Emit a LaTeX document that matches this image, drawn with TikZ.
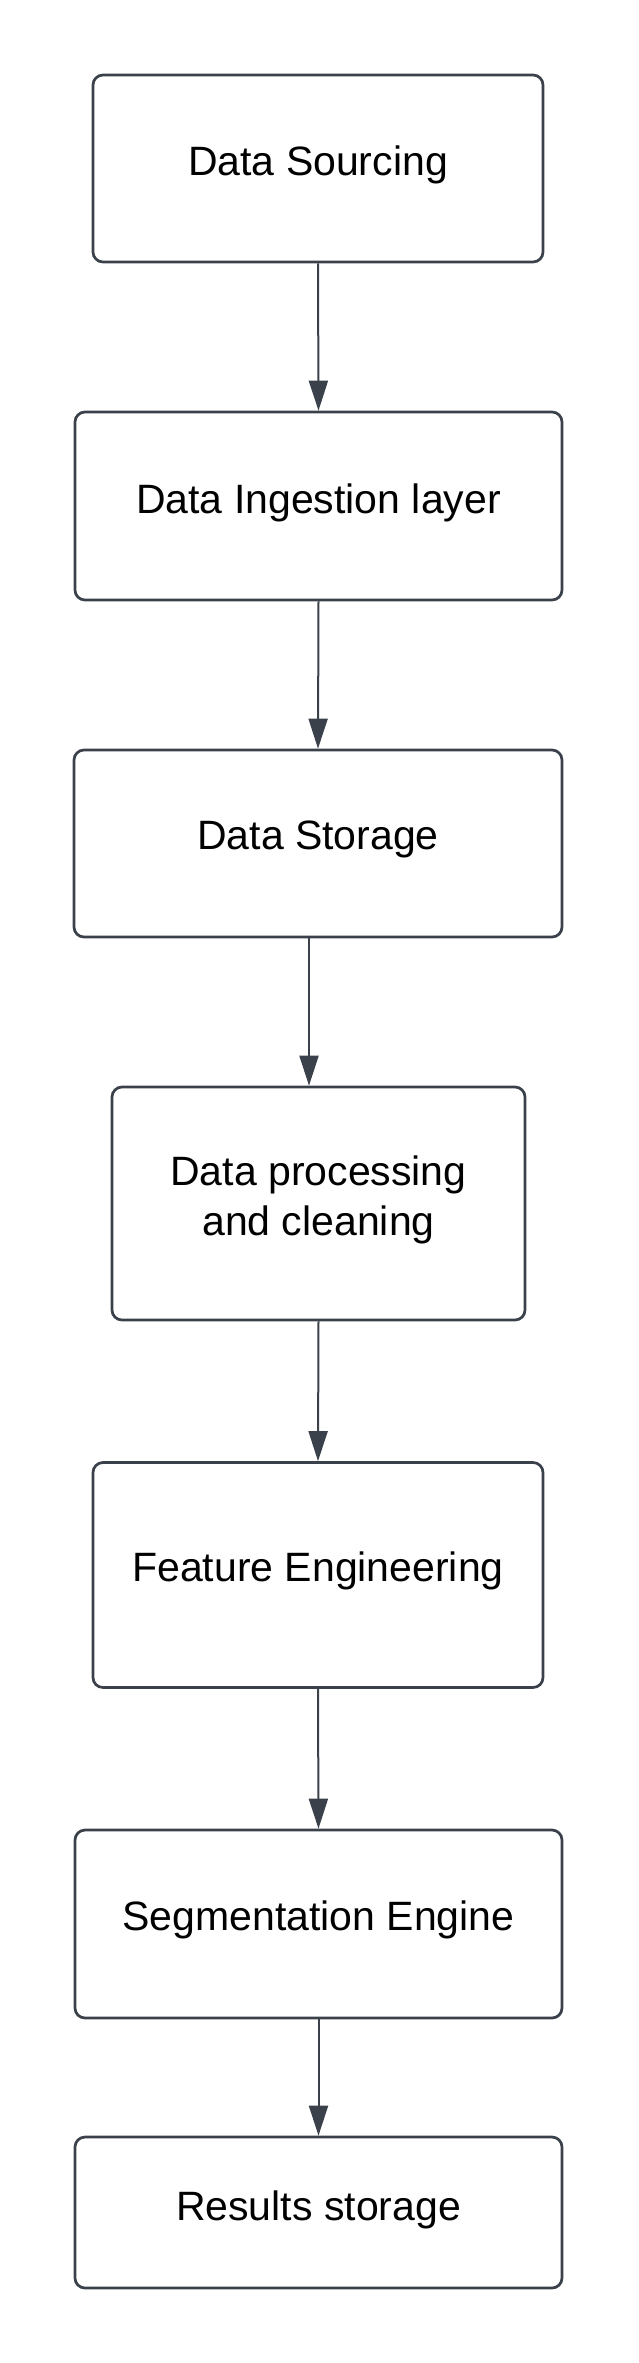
\documentclass[tikz,border=0pt]{standalone}
\usepackage{fontspec}
\setmainfont{Liberation Sans}
\usetikzlibrary{arrows.meta}
\definecolor{edge}{HTML}{3B414B}
\tikzset{
  box/.style={draw=edge, line width=2.7pt, rounded corners=10pt, fill=white, inner sep=0pt},
  lbl/.style={font=\fontsize{41}{50}\selectfont, text=black, align=center, inner sep=0pt},
  conn/.style={draw=edge, line width=2pt, -{Triangle[width=19pt,length=30pt]}}
}
\begin{document}
\begin{tikzpicture}[x=1pt,y=-1pt]
\useasboundingbox (0,0) rectangle (638,2363);
\node[box, minimum width=450pt, minimum height=187pt] (b1) at (318,168.5) {};
\node[box, minimum width=487pt, minimum height=188pt] (b2) at (318.5,506) {};
\node[box, minimum width=488pt, minimum height=187pt] (b3) at (318,843.5) {};
\node[box, minimum width=413pt, minimum height=233pt] (b4) at (318.5,1203.5) {};
\node[box, minimum width=450pt, minimum height=225pt] (b5) at (318,1575) {};
\node[box, minimum width=487pt, minimum height=188pt] (b6) at (318.5,1924) {};
\node[box, minimum width=487pt, minimum height=151pt] (b7) at (318.5,2212.5) {};
\node[lbl] (t1) at ([yshift=4pt]b1.center) {Data Sourcing};
\node[lbl] (t2) at ([yshift=3pt]b2.center) {Data Ingestion layer};
\node[lbl] (t3) at ([yshift=4pt]b3.center) {Data Storage};
\node[lbl] (t4) at ([yshift=4pt]b4.center) {Data processing\\and cleaning};
\node[lbl] (t5) at ([yshift=4pt]b5.center) {Feature Engineering};
\node[lbl] (t6) at ([yshift=4pt]b6.center) {Segmentation Engine};
\node[lbl] (t7) at ([yshift=3pt]b7.center) {Results storage};
\draw[conn] (b1.south) -- (b2.north);
\draw[conn] (b2.south) -- (b3.north);
\draw[conn] ([xshift=-9pt]b3.south) -- ([xshift=-9pt]b3.south |- b4.north);
\draw[conn] (b4.south) -- (b5.north);
\draw[conn] (b5.south) -- (b6.north);
\draw[conn] (b6.south) -- (b7.north);
\end{tikzpicture}
\end{document}
